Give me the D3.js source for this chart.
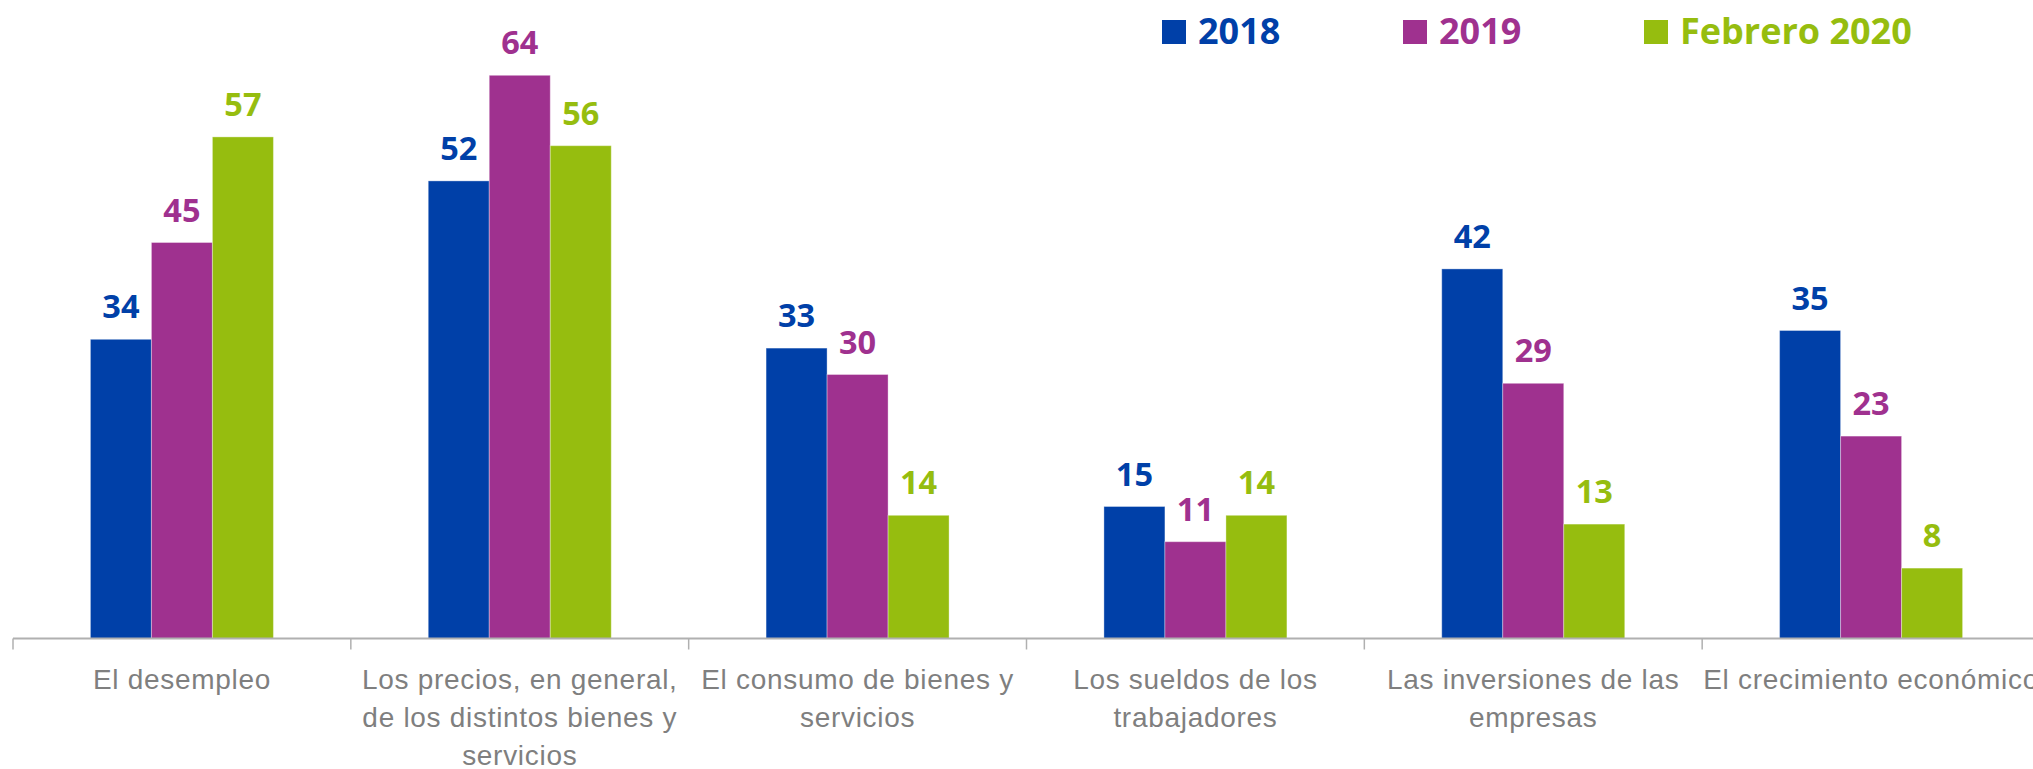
<!DOCTYPE html>
<html>
<head>
<meta charset="utf-8">
<script src="https://cdn.jsdelivr.net/npm/d3@7"></script>
<style>
  body { margin: 0; background: #fff; }
  svg { display: block; font-family: "Open Sans", sans-serif; }
</style>
</head>
<body>
<svg id="chart"></svg>
<script>
// data
const categories = ["El desempleo", "Los precios", "El consumo", "Los sueldos", "Las inversiones", "El crecimiento"];
const tickLabels = [
    ["El desempleo"],
    ["Los precios, en general,", "de los distintos bienes y", "servicios"],
    ["El consumo de bienes y", "servicios"],
    ["Los sueldos de los", "trabajadores"],
    ["Las inversiones de las", "empresas"],
    ["El crecimiento económico"]
];
const seriesNames = ["2018", "2019", "Febrero 2020"];
const values2018 = [34, 52, 33, 15, 42, 35];
const values2019 = [45, 64, 30, 11, 29, 23];
const valuesFeb2020 = [57, 56, 14, 14, 13, 8];
const colors = ["#0040a8", "#9f318f", "#96bd0f"];

const seriesValues = [values2018, values2019, valuesFeb2020];

const width = 2033;
const height = 769;
const axisY = 638.5;

const svg = d3.select("#chart")
    .attr("width", width)
    .attr("height", height);

const x0 = d3.scaleBand()
    .domain(categories)
    .range([13, 2040])
    .padding(0);

const groupW = 183;
const x1 = d3.scaleBand()
    .domain(seriesNames)
    .range([(x0.bandwidth() - groupW) / 2, (x0.bandwidth() + groupW) / 2])
    .padding(0);

const y = d3.scaleLinear()
    .domain([0, 70])
    .range([axisY, axisY - 70 * 8.8]);

// bars
const groups = svg.append("g")
    .selectAll("g")
    .data(categories)
    .join("g")
    .attr("transform", d => `translate(${x0(d)},0)`);

groups.selectAll("rect")
    .data((d, i) => seriesNames.map((s, j) => ({ s, j, v: seriesValues[j][i] })))
    .join("rect")
    .attr("x", d => x1(d.s))
    .attr("y", d => y(d.v))
    .attr("width", x1.bandwidth())
    .attr("height", d => axisY - y(d.v))
    .attr("fill", d => colors[d.j])
    .attr("stroke", "#fff")
    .attr("stroke-opacity", 0.35)
    .attr("stroke-width", 1);

groups.selectAll("text")
    .data((d, i) => seriesNames.map((s, j) => ({ s, j, v: seriesValues[j][i] })))
    .join("text")
    .attr("x", d => x1(d.s) + x1.bandwidth() / 2)
    .attr("y", d => y(d.v) - 21)
    .attr("text-anchor", "middle")
    .attr("font-size", 32.5)
    .attr("font-weight", 700)
    .attr("fill", d => colors[d.j])
    .text(d => d.v);

// x axis
const xAxis = svg.append("g")
    .attr("transform", `translate(0,${axisY})`)
    .call(d3.axisBottom(x0).tickSize(0).tickFormat(""));

xAxis.select(".domain")
    .attr("stroke", "#b0b0b0")
    .attr("stroke-width", 2)
    .attr("d", `M13,0H${width}`);

const boundaries = categories.map(d => x0(d));
xAxis.selectAll(".bound")
    .data(boundaries)
    .join("line")
    .attr("class", "bound")
    .attr("x1", d => d)
    .attr("x2", d => d)
    .attr("y1", 0)
    .attr("y2", 11)
    .attr("stroke", "#b0b0b0")
    .attr("stroke-width", 1.5);

xAxis.selectAll(".tick").each(function(d, i) {
    const t = d3.select(this).append("text")
        .attr("fill", "#7f7f7f")
        .attr("font-size", 28)
        .attr("letter-spacing", 0.7)
        .attr("text-anchor", "middle");
    tickLabels[i].forEach((line, k) => {
        t.append("tspan")
            .attr("x", 0)
            .attr("y", 50 + k * 38)
            .text(line);
    });
});

// legend
const legend = svg.append("g")
    .selectAll("g")
    .data(seriesNames)
    .join("g")
    .attr("transform", (d, i) => `translate(${1162 + i * 241},0)`);

legend.append("rect")
    .attr("x", 0)
    .attr("y", 20)
    .attr("width", 24)
    .attr("height", 24)
    .attr("fill", (d, i) => colors[i]);

legend.append("text")
    .attr("x", 36)
    .attr("y", 44)
    .attr("font-size", 36)
    .attr("font-weight", 700)
    .attr("fill", (d, i) => colors[i])
    .text(d => d);
</script>
</body>
</html>
